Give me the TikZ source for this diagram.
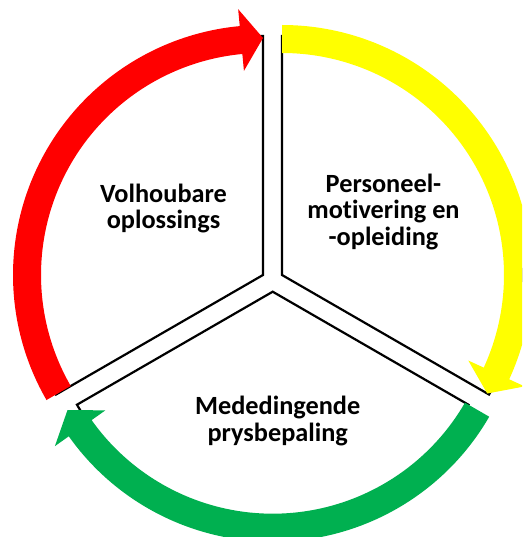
\documentclass[tikz,border=0pt]{standalone}
\usepackage{fontspec}
\setmainfont{Carlito}[Ligatures=NoCommon]
\definecolor{cred}{HTML}{FF0000}
\definecolor{cyellow}{HTML}{FFFF00}
\definecolor{cgreen}{HTML}{00B050}
\newcommand\cycarrow[4]{%
  \pgfmathsetmacro\hb{#3+5.34}%
  \fill[#4] ([shift={(#1)}]#2:250pt) arc[start angle=#2, end angle=\hb, radius=250pt]
    -- ([shift={(#1)}]\hb:267pt) -- ([shift={(#1)}]#3:237pt) -- ([shift={(#1)}]\hb:205pt)
    -- ([shift={(#1)}]\hb:222pt) arc[start angle=\hb, end angle=#2, radius=222pt] -- cycle;}
\begin{document}
\begin{tikzpicture}[x=1pt,y=1pt,
  sector/.style={draw=black,line width=2.2pt,line join=miter},
  lbl/.style={font=\bfseries\fontsize{26.3}{26.5}\selectfont,align=center,anchor=base,inner sep=0pt}]
\fill[white] (0,0) rectangle (522,-537);
\useasboundingbox (0,0) rectangle (522,-537);
\clip (0,0) rectangle (522,-537);
\coordinate (L) at (263,-275);
\coordinate (R) at (282,-275);
\coordinate (B) at (272.7,-291.7);
% sector outlines
\draw[sector] (L) -- ([shift={(L)}]90:239pt) arc[start angle=90,end angle=210,radius=239pt] -- cycle;
\draw[sector] (R) -- ([shift={(R)}]90:239pt) arc[start angle=90,end angle=-30,radius=239pt] -- cycle;
\draw[sector] (B) -- ([shift={(B)}]-30:226pt) arc[start angle=-30,end angle=-150,radius=226pt] -- cycle;
% arrows
\cycarrow{L}{210}{90}{cred}
\cycarrow{R}{90}{-30}{cyellow}
\cycarrow{B}{-30}{-150}{cgreen}
% labels (anchor base = last line baseline)
\node[lbl] (t1) at (163.5,-228.5) {Volhoubare\\oplossings};
\node[lbl] (t2) at (383.5,-245) {Personeel-\\motivering en\\-opleiding};
\node[lbl] (t3) at (277.7,-441) {Mededingende\\prysbepaling};
\end{tikzpicture}
\end{document}
